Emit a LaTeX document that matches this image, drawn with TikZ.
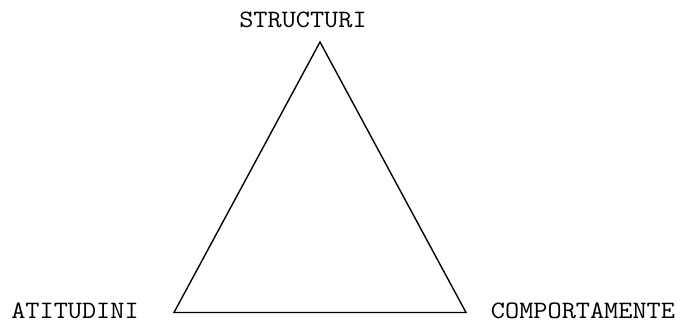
\documentclass[tikz,border=0pt]{standalone}
\usepackage{fontspec}
\usepackage{tikz}
\newcommand{\cornertext}[1]{\scalebox{1.10}[1]{\ttfamily\fontsize{25}{28}\selectfont #1}}
\tikzset{
  nd_lbl/.style={
    anchor=base, inner sep=0pt},
  edge_tri/.style={line width=1.4pt, line join=miter},
}

\begin{document}
\begin{tikzpicture}[x=1pt,y=-1pt]
\useasboundingbox (0,0) rectangle (681,322);

%% corners of the triangle
\coordinate (top)   at (320,42);
\coordinate (left)  at (174,312.5);
\coordinate (right) at (466,312.5);

\node[nd_lbl] at (303,27.5)  (S){\cornertext{STRUCTURI}};
\node[nd_lbl] at (75,318)    (A){\cornertext{ATITUDINI}};
\node[nd_lbl] at (583,318)   (C){\cornertext{COMPORTAMENTE}};

\draw[edge_tri] (top)--(right)--(left)--cycle;

\end{tikzpicture}
\end{document}
